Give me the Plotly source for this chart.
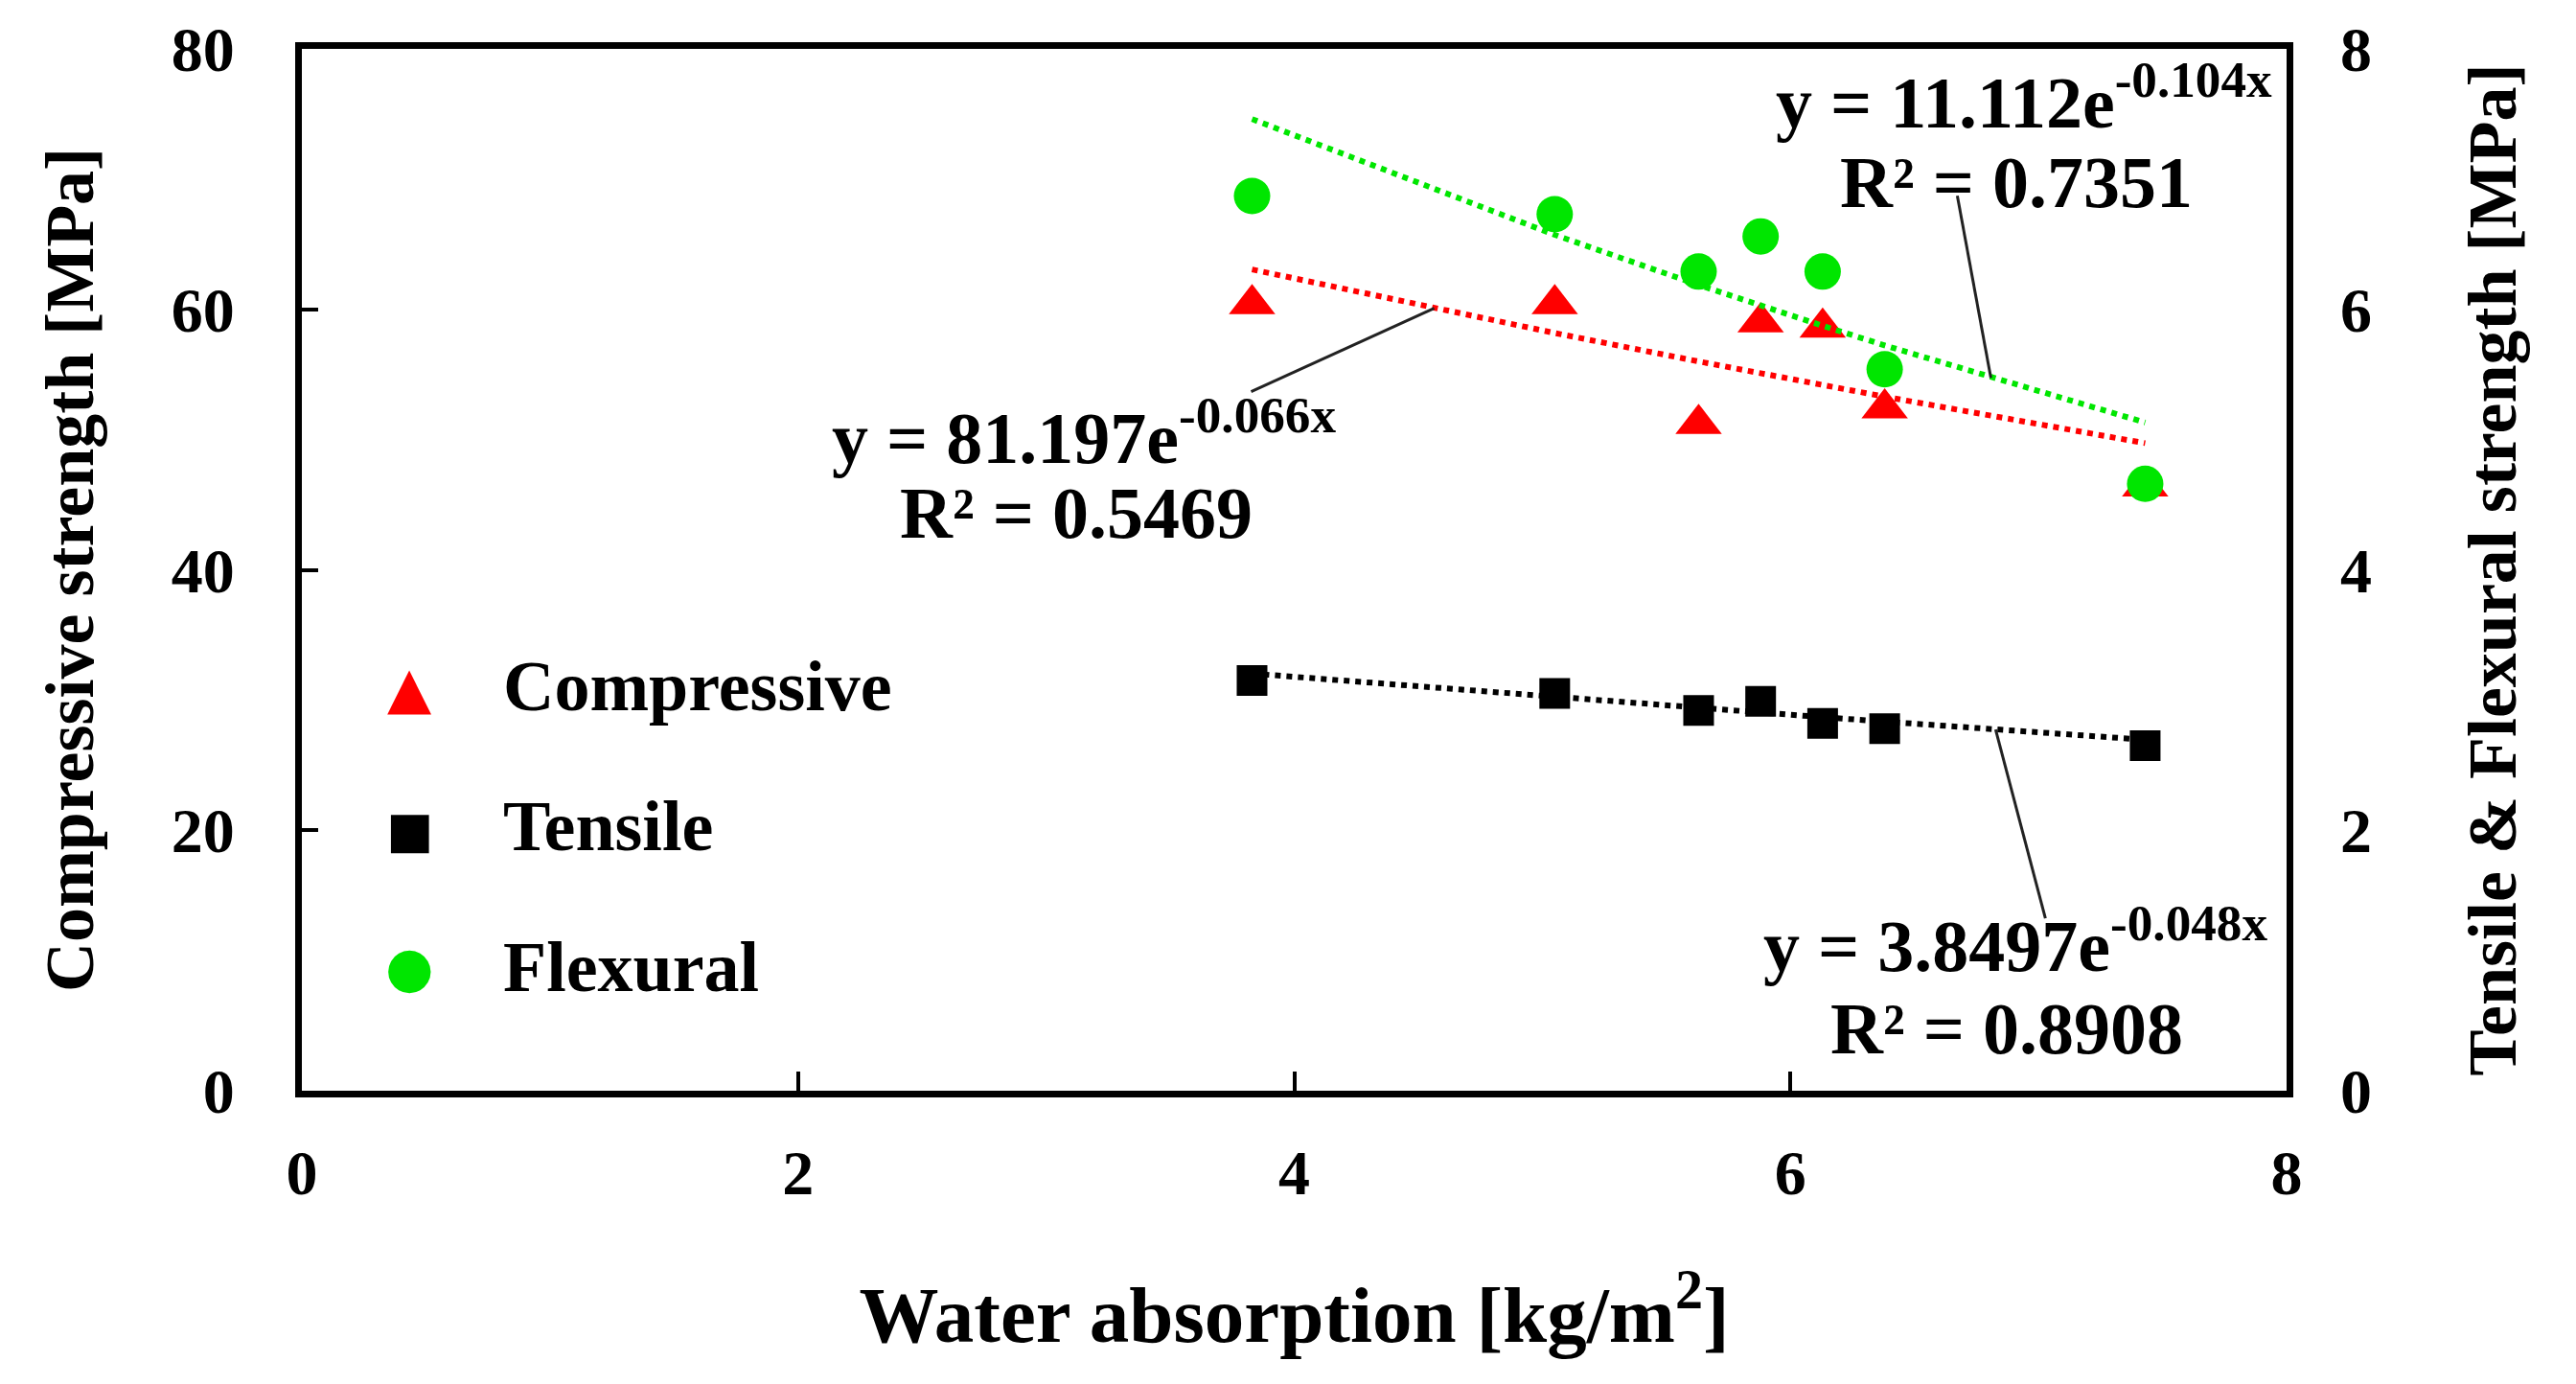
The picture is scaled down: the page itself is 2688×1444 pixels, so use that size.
import math
import plotly.graph_objects as go

# ---------------- data ----------------
water_absorption = [3.83, 5.05, 5.63, 5.88, 6.13, 6.38, 7.43]      # kg/m2
compressive = [60.4, 60.4, 51.2, 59.0, 58.6, 52.4, 46.4]           # MPa (left axis)
tensile = [3.15, 3.05, 2.92, 2.99, 2.82, 2.78, 2.65]                # MPa (right axis)
flexural = [6.87, 6.73, 6.29, 6.56, 6.29, 5.54, 4.66]               # MPa (right axis)

# exponential trendlines shown on the chart: y = a * exp(b * x)
trend_names = ["Compressive", "Tensile", "Flexural"]
trend_a = [81.197, 3.8497, 11.112]
trend_b = [-0.066, -0.048, -0.104]
trend_r2 = ["0.5469", "0.8908", "0.7351"]
leader_x = [4.564, 6.827, 6.808]        # where each label's leader line touches its trendline

x_ticks = [0, 2, 4, 6, 8]
y_left_ticks = [0, 20, 40, 60, 80]
y_right_ticks = [0, 2, 4, 6, 8]

RED = "#FF0000"
GREEN = "#00E600"
BLACK = "#000000"
FONT = "Liberation Serif"

W, H = 2688, 1444
ML, MR, MT, MB = 315, 302, 51, 306
PW, PH = W - ML - MR, H - MT - MB
X_RANGE = [0, 8]
YL_RANGE = [0, 80]
YR_RANGE = [0, 8]


def paper(px, py):
    return (px - ML) / PW, (H - MB - py) / PH


def trend(i, xs):
    return [trend_a[i] * math.exp(trend_b[i] * x) for x in xs]


fig = go.Figure()

fig.add_trace(go.Scatter(
    x=water_absorption, y=compressive, mode="markers", name="Compressive",
    marker=dict(symbol="triangle-up", size=42, color=RED), yaxis="y"))
fig.add_trace(go.Scatter(
    x=water_absorption, y=tensile, mode="markers", name="Tensile",
    marker=dict(symbol="square", size=32, color=BLACK), yaxis="y2"))
fig.add_trace(go.Scatter(
    x=water_absorption, y=flexural, mode="markers", name="Flexural",
    marker=dict(symbol="circle", size=38, color=GREEN), yaxis="y2"))

# trendlines (drawn on top, like the spreadsheet)
trend_colors = [RED, BLACK, GREEN]
trend_axes = ["y", "y2", "y2"]
for i in range(3):
    fig.add_trace(go.Scatter(
        x=water_absorption, y=trend(i, water_absorption), mode="lines",
        line=dict(color=trend_colors[i], width=6, dash="dot"),
        yaxis=trend_axes[i], showlegend=False, hoverinfo="skip",
        name=trend_names[i] + " trend"))

annotations = []
shapes = []

# equation labels
eq_font = dict(family=FONT, size=76, color=BLACK, weight="bold")
eq_layout = [
    # (line1 left x, line1 center y, line2 center x, line2 center y) in pixels
    (866, 452, 1123, 535),     # Compressive
    (1838, 981, 2094, 1073),   # Tensile
    (1851, 102, 2104, 190),    # Flexural
]
for i in range(3):
    lx, ly, rx, ry = eq_layout[i]
    a_txt = ("%g" % trend_a[i])
    b_txt = ("%.3f" % trend_b[i])
    p1 = paper(lx, ly)
    p2 = paper(rx, ry)
    annotations.append(dict(
        xref="paper", yref="paper", x=p1[0], y=p1[1], xanchor="left", yanchor="middle",
        text="y = %se<sup>%sx</sup>" % (a_txt, b_txt), showarrow=False, font=eq_font))
    annotations.append(dict(
        xref="paper", yref="paper", x=p2[0], y=p2[1], xanchor="center", yanchor="middle",
        text="R² = %s" % trend_r2[i], showarrow=False, font=eq_font))

# leader lines from the labels to the trendlines (tail offsets in px: right, down)
leader_offsets = [(-191, 87), (52, 197), (-35, -190)]
leader_ref = ["y", "y2", "y2"]
leader_yspan = [YL_RANGE[1] - YL_RANGE[0], YR_RANGE[1] - YR_RANGE[0], YR_RANGE[1] - YR_RANGE[0]]
for i in range(3):
    tx = leader_x[i]
    ty = trend(i, [tx])[0]
    dx, dy = leader_offsets[i]
    tail_x = tx + dx * (X_RANGE[1] - X_RANGE[0]) / PW
    tail_y = ty - dy * leader_yspan[i] / PH
    shapes.append(dict(
        type="line", xref="x", yref=leader_ref[i], x0=tx, y0=ty, x1=tail_x, y1=tail_y,
        line=dict(color="#222222", width=3)))

# legend (large symbols, as in the reference)
legend_font = dict(family=FONT, size=74, color=BLACK, weight="bold")
legend_rows = [
    ("▲", RED, 60, 717, "Compressive", 716),
    ("■", BLACK, 52, 866, "Tensile", 862),
    ("●", GREEN, 58, 1009, "Flexural", 1009),
]
for sym, col, fs, sy, label, ty in legend_rows:
    ps = paper(427, sy)
    annotations.append(dict(
        xref="paper", yref="paper", x=ps[0], y=ps[1], xanchor="center", yanchor="middle",
        text=sym, showarrow=False, font=dict(family="DejaVu Sans", size=fs, color=col)))
    pt = paper(523, ty)
    annotations.append(dict(
        xref="paper", yref="paper", x=pt[0], y=pt[1], xanchor="left", yanchor="middle",
        text=label, showarrow=False, font=legend_font))

tick_font = dict(family=FONT, size=66, color=BLACK, weight="bold")
title_font = dict(family=FONT, size=72, color=BLACK, weight="bold")

fig.update_layout(
    width=W, height=H,
    margin=dict(l=ML, r=MR, t=MT, b=MB, autoexpand=False),
    paper_bgcolor="white", plot_bgcolor="white",
    showlegend=False,
    font=dict(family=FONT, color=BLACK),
    xaxis=dict(
        range=X_RANGE, tickvals=x_ticks, ticktext=[str(v) for v in x_ticks],
        ticks="inside", ticklen=20, tickwidth=4, tickcolor=BLACK,
        showline=True, linewidth=7, linecolor=BLACK, mirror=True,
        showgrid=False, zeroline=False, tickfont=tick_font, ticklabelstandoff=22,
        title=dict(text="Water absorption [kg/m<sup>2</sup>]",
                   font=dict(family=FONT, size=83, color=BLACK, weight="bold"), standoff=85),
    ),
    yaxis=dict(
        range=YL_RANGE, tickvals=y_left_ticks, ticktext=[str(v) for v in y_left_ticks],
        ticks="inside", ticklen=17, tickwidth=4, tickcolor=BLACK,
        showline=True, linewidth=7, linecolor=BLACK, mirror=True,
        showgrid=False, zeroline=False, tickfont=tick_font, ticklabelstandoff=50,
        title=dict(text="Compressive strength [MPa]", font=title_font, standoff=60),
    ),
    yaxis2=dict(
        range=YR_RANGE, tickvals=y_right_ticks, ticktext=[str(v) for v in y_right_ticks],
        overlaying="y", side="right", ticks="", showline=False,
        showgrid=False, zeroline=False, tickfont=tick_font, ticklabelstandoff=55,
        title=dict(text="Tensile & Flexural strength [MPa]", font=title_font, standoff=100),
    ),
    annotations=annotations,
    shapes=shapes,
)

fig.write_html("out.html")
